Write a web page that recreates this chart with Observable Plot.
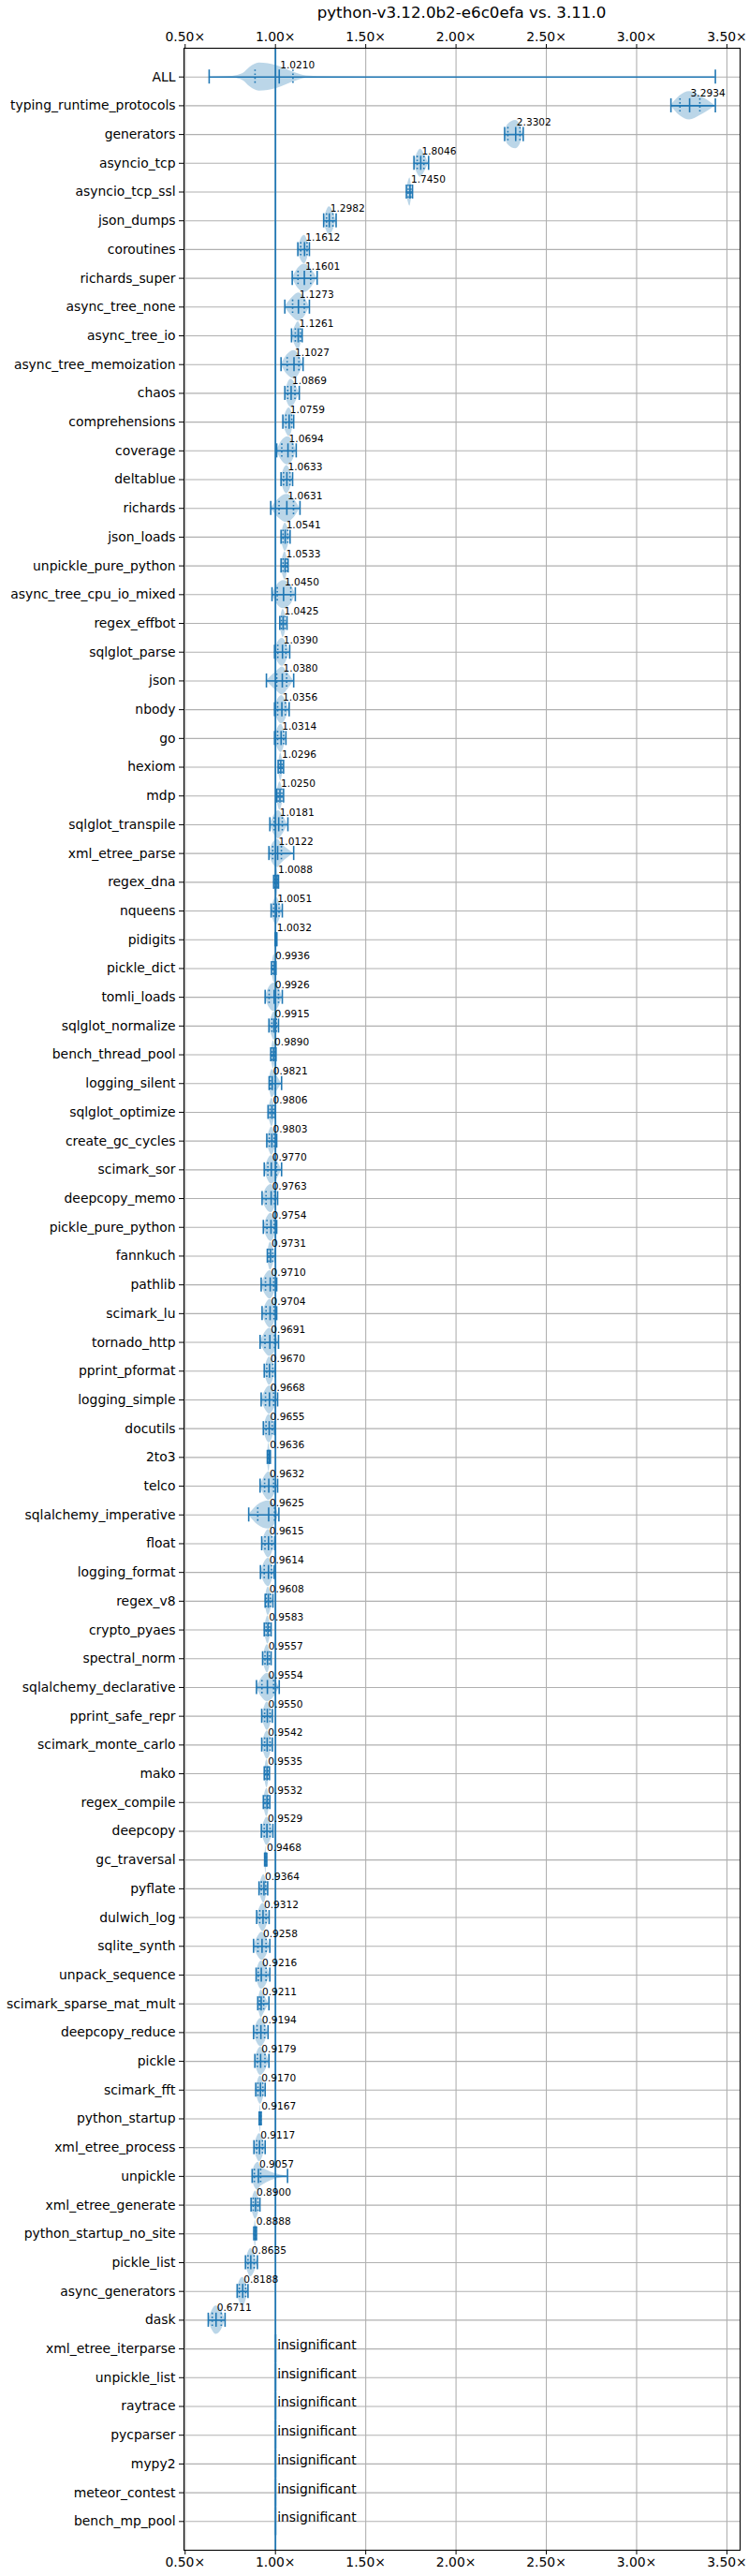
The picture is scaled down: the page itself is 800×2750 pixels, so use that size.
<!DOCTYPE html>
<html>
<head>
<meta charset="utf-8">
<script src="https://cdn.jsdelivr.net/npm/d3@7"></script>
<script src="https://cdn.jsdelivr.net/npm/@observablehq/plot@0.6"></script>
<style>
  body { margin: 0; background: #fff; font-family: "DejaVu Sans", sans-serif; }
  #wrap { position: relative; width: 800px; height: 2750px; }
  #title { position: absolute; left: 196px; width: 594px; top: 3px; text-align: center;
           font-size: 16.7px; line-height: 20px; color: #000; font-family: "DejaVu Sans", sans-serif; }
</style>
</head>
<body>
<div id="wrap"><div id="title">python-v3.12.0b2-e6c0efa vs. 3.11.0</div></div>
<script>
const titleText = "python-v3.12.0b2-e6c0efa vs. 3.11.0";

const names = ["ALL","typing_runtime_protocols","generators","asyncio_tcp","asyncio_tcp_ssl","json_dumps",
"coroutines","richards_super","async_tree_none","async_tree_io","async_tree_memoization","chaos",
"comprehensions","coverage","deltablue","richards","json_loads","unpickle_pure_python",
"async_tree_cpu_io_mixed","regex_effbot","sqlglot_parse","json","nbody","go","hexiom","mdp",
"sqlglot_transpile","xml_etree_parse","regex_dna","nqueens","pidigits","pickle_dict","tomli_loads",
"sqlglot_normalize","bench_thread_pool","logging_silent","sqlglot_optimize","create_gc_cycles",
"scimark_sor","deepcopy_memo","pickle_pure_python","fannkuch","pathlib","scimark_lu","tornado_http",
"pprint_pformat","logging_simple","docutils","2to3","telco","sqlalchemy_imperative","float",
"logging_format","regex_v8","crypto_pyaes","spectral_norm","sqlalchemy_declarative","pprint_safe_repr",
"scimark_monte_carlo","mako","regex_compile","deepcopy","gc_traversal","pyflate","dulwich_log",
"sqlite_synth","unpack_sequence","scimark_sparse_mat_mult","deepcopy_reduce","pickle","scimark_fft",
"python_startup","xml_etree_process","unpickle","xml_etree_generate","python_startup_no_site",
"pickle_list","async_generators","dask"];

const insignificantNames = ["xml_etree_iterparse","unpickle_list","raytrace","pycparser","mypy2",
"meteor_contest","bench_mp_pool"];

const meds = [1.0210,3.2934,2.3302,1.8046,1.7450,1.2982,1.1612,1.1601,1.1273,1.1261,1.1027,1.0869,
1.0759,1.0694,1.0633,1.0631,1.0541,1.0533,1.0450,1.0425,1.0390,1.0380,1.0356,1.0314,1.0296,1.0250,
1.0181,1.0122,1.0088,1.0051,1.0032,0.9936,0.9926,0.9915,0.9890,0.9821,0.9806,0.9803,0.9770,0.9763,
0.9754,0.9731,0.9710,0.9704,0.9691,0.9670,0.9668,0.9655,0.9636,0.9632,0.9625,0.9615,0.9614,0.9608,
0.9583,0.9557,0.9554,0.9550,0.9542,0.9535,0.9532,0.9529,0.9468,0.9364,0.9312,0.9258,0.9216,0.9211,
0.9194,0.9179,0.9170,0.9167,0.9117,0.9057,0.8900,0.8888,0.8635,0.8188,0.6711];

const mins = [0.633,3.190,2.269,1.767,1.725,1.267,1.124,1.093,1.052,1.089,1.031,1.052,
1.041,1.007,1.031,0.974,1.031,1.031,0.981,1.024,0.995,0.950,0.995,0.995,1.015,1.007,
0.969,0.964,0.990,0.976,0.998,0.978,0.943,0.964,0.974,0.965,0.959,0.952,0.938,0.926,
0.933,0.955,0.921,0.926,0.915,0.938,0.921,0.933,0.955,0.915,0.852,0.924,0.917,0.943,
0.938,0.929,0.895,0.924,0.924,0.938,0.933,0.922,0.940,0.909,0.896,0.879,0.893,0.902,
0.879,0.886,0.891,0.910,0.881,0.871,0.865,0.880,0.834,0.788,0.628];

const q1s = [0.887,3.240,2.287,1.785,1.735,1.283,1.140,1.125,1.095,1.110,1.065,1.068,
1.058,1.035,1.045,1.020,1.042,1.042,1.010,1.033,1.013,1.007,1.012,1.012,1.022,1.015,
0.993,0.985,0.998,0.990,1.001,0.986,0.965,0.980,0.982,0.972,0.970,0.966,0.958,0.948,
0.953,0.963,0.945,0.948,0.942,0.952,0.945,0.948,0.959,0.940,0.902,0.942,0.938,0.950,
0.948,0.942,0.925,0.940,0.940,0.945,0.942,0.938,0.944,0.922,0.913,0.903,0.905,0.912,
0.898,0.900,0.903,0.914,0.896,0.883,0.877,0.885,0.848,0.800,0.650];

const q3s = [1.097,3.350,2.354,1.822,1.750,1.318,1.175,1.195,1.160,1.138,1.130,1.108,
1.090,1.095,1.080,1.100,1.068,1.062,1.085,1.053,1.058,1.062,1.055,1.045,1.036,1.035,
1.038,1.033,1.012,1.020,1.005,0.999,1.017,1.005,0.996,1.000,0.990,0.993,1.006,0.995,
0.993,0.985,0.990,0.992,0.995,0.985,0.990,0.982,0.968,0.990,0.995,0.980,0.978,0.972,
0.967,0.966,0.990,0.970,0.970,0.960,0.961,0.970,0.949,0.946,0.948,0.948,0.948,0.935,
0.940,0.942,0.930,0.919,0.928,0.918,0.903,0.892,0.882,0.835,0.700];

const maxs = [3.436,3.436,2.372,1.848,1.759,1.336,1.188,1.231,1.188,1.148,1.153,1.132,
1.101,1.115,1.095,1.136,1.081,1.070,1.110,1.064,1.079,1.101,1.076,1.058,1.045,1.045,
1.069,1.101,1.017,1.038,1.008,1.003,1.038,1.017,1.003,1.034,1.000,1.007,1.034,1.012,
1.007,1.000,1.007,1.007,1.017,1.000,1.012,0.995,0.972,1.012,1.019,0.996,0.993,0.986,
0.976,0.976,1.021,0.983,0.983,0.967,0.969,0.986,0.952,0.957,0.965,0.969,0.969,0.964,
0.959,0.964,0.943,0.921,0.943,1.067,0.914,0.895,0.900,0.848,0.721];

// relative violin half-width at [min, q1, median, q3, max]
const violinShape = [0, 0.7, 1, 0.7, 0];
// ALL row distribution profile: [value, relative half-width]
const allProfile = [[0.633,0],[0.75,0.04],[0.82,0.25],[0.86,0.7],[0.91,1],[0.96,0.95],[1.01,0.8],
[1.06,0.55],[1.11,0.3],[1.17,0.08],[1.3,0.02],[1.8,0.005],[3.436,0]];

const xTicks = [0.5,1.0,1.5,2.0,2.5,3.0,3.5];

const C0 = "#1f77b4";
const allNames = names.concat(insignificantNames);
const rowIdx = allNames.map((_, i) => i + 1);

const rows = names.map((n, i) => ({row: i + 1, name: n, min: mins[i], q1: q1s[i], med: meds[i], q3: q3s[i], max: maxs[i]}));
const insig = insignificantNames.map((n, i) => ({row: names.length + i + 1, name: n}));

const HW = 0.49; // violin max half-width in row units
const violinPts = [];
rows.forEach((r, i) => {
  const prof = i === 0 ? allProfile : [r.min, r.q1, r.med, r.q3, r.max].map((v, k) => [v, violinShape[k]]);
  prof.forEach(([v, w]) => violinPts.push({row: r.row, x: v, y1: r.row - w * HW, y2: r.row + w * HW}));
});

const CAP = 0.245;
const plot = Plot.plot({
  width: 800,
  height: 2750,
  marginLeft: 196,
  marginRight: 10,
  marginTop: 51,
  marginBottom: 28,
  style: {fontFamily: "DejaVu Sans, sans-serif", fontSize: "13.9px", color: "#000", background: "transparent"},
  x: {domain: [0.4935, 3.573]},
  y: {domain: [0, 87], range: [51, 2722]},
  marks: [
    Plot.areaY(violinPts, {x: "x", y1: "y1", y2: "y2", z: "row", fill: C0, fillOpacity: 0.3, curve: "monotone-x"}),
    Plot.ruleX(insig, {x: () => 1, y1: d => d.row - HW, y2: d => d.row + HW, stroke: C0, strokeOpacity: 0.3, strokeWidth: 3}),
    Plot.gridX({ticks: xTicks, stroke: "#b0b0b0", strokeOpacity: 1, strokeWidth: 1.1}),
    Plot.gridY({ticks: rowIdx, stroke: "#b0b0b0", strokeOpacity: 1, strokeWidth: 1.1}),
    Plot.ruleX([1], {stroke: C0, strokeWidth: 1.8}),
    Plot.ruleY(rows, {y: "row", x1: "min", x2: "max", stroke: C0, strokeWidth: 1.6}),
    Plot.ruleX(rows, {x: "min", y1: d => d.row - CAP, y2: d => d.row + CAP, stroke: C0, strokeWidth: 1.6}),
    Plot.ruleX(rows, {x: "max", y1: d => d.row - CAP, y2: d => d.row + CAP, stroke: C0, strokeWidth: 1.6}),
    Plot.ruleX(rows, {x: "med", y1: d => d.row - CAP, y2: d => d.row + CAP, stroke: C0, strokeWidth: 1.6}),
    Plot.ruleX(rows, {x: "q1", y1: d => d.row - CAP, y2: d => d.row + CAP, stroke: C0, strokeWidth: 1.6, strokeDasharray: "1.6,2.6"}),
    Plot.ruleX(rows, {x: "q3", y1: d => d.row - CAP, y2: d => d.row + CAP, stroke: C0, strokeWidth: 1.6, strokeDasharray: "1.6,2.6"}),
    Plot.text(rows, {x: "med", y: "row", text: d => d.med.toFixed(4), textAnchor: "start", dx: 1, dy: -13, fontSize: 10.6, fill: "#000"}),
    Plot.text(insig, {x: () => 1, y: "row", text: () => "insignificant", textAnchor: "start", dx: 2, dy: -4, fontSize: 13.9, fill: "#000"}),
    Plot.axisX({anchor: "top", ticks: xTicks, tickFormat: d => d.toFixed(2) + "×", tickSize: 5, tickPadding: 3, label: null}),
    Plot.axisX({anchor: "bottom", ticks: xTicks, tickFormat: d => d.toFixed(2) + "×", tickSize: 5, tickPadding: 3, label: null}),
    Plot.axisY({ticks: rowIdx, tickFormat: d => allNames[d - 1], tickSize: 5, tickPadding: 4, label: null}),
    Plot.frame({stroke: "#000", strokeWidth: 1.1})
  ]
});
document.getElementById("wrap").appendChild(plot);
plot.style.position = "absolute";
plot.style.left = "0px";
plot.style.top = "0px";
document.title = titleText;
</script>
</body>
</html>
